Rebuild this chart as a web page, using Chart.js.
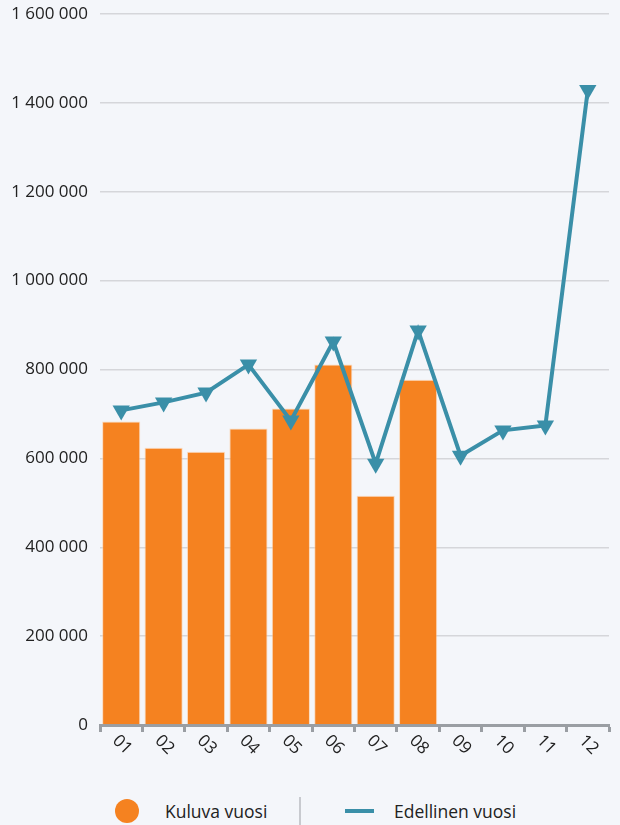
<!DOCTYPE html>
<html>
<head>
<meta charset="utf-8">
<script src="https://cdn.jsdelivr.net/npm/chart.js@4"></script>
<style>
  html, body { margin: 0; padding: 0; background: #f4f6fa; }
  body { width: 620px; height: 825px; overflow: hidden; font-family: "Open Sans", "Noto Sans", sans-serif; }
  #wrap { position: relative; width: 620px; height: 790px; }
  #legend { position: absolute; left: 0; top: 797px; width: 620px; height: 28px; }
  .item { position: absolute; top: 0; height: 28px; display: flex; align-items: center; font-size: 17.5px; color: #222; }
  .sep { position: absolute; left: 299px; top: 0; width: 2px; height: 28px; background: #c8cacf; }
</style>
</head>
<body>
<div id="wrap"><canvas id="chart" width="620" height="790"></canvas></div>
<div id="legend"></div>
<script>
const months = ['01', '02', '03', '04', '05', '06', '07', '08', '09', '10', '11', '12'];
const currentYear = [683000, 624000, 615000, 667000, 712000, 811000, 516000, 777000, null, null, null, null];
const previousYear = [708000, 726000, 748000, 811000, 685000, 863000, 588000, 888000, 606000, 663000, 674000, 1429000];
const yTicks = [0, 200000, 400000, 600000, 800000, 1000000, 1200000, 1400000, 1600000];

const orange = '#f58220';
const teal = '#3a8fa8';
const fontFamily = '"Open Sans", "Noto Sans", sans-serif';

function fmt(v) {
  // 1600000 -> "1 600 000"
  return String(v).replace(/\B(?=(\d{3})+(?!\d))/g, ' ');
}

// x labels are turned clockwise, which the built-in ticks don't do
const xLabelPlugin = {
  id: 'xLabels',
  afterDraw(chart) {
    const ctx = chart.ctx;
    const xs = chart.scales.x;
    const top = xs.top + 13;
    ctx.save();
    ctx.fillStyle = '#222';
    ctx.font = '17px ' + fontFamily;
    ctx.textBaseline = 'middle';
    ctx.textAlign = 'left';
    months.forEach((m, i) => {
      const x = xs.getPixelForValue(i);
      ctx.save();
      ctx.translate(x - 6, top);
      ctx.rotate(Math.PI / 4);
      ctx.fillText(m, 0, 0);
      ctx.restore();
    });
    ctx.restore();
  }
};

const chart = new Chart(document.getElementById('chart'), {
  data: {
    labels: months,
    datasets: [
      {
        type: 'line',
        label: 'Edellinen vuosi',
        data: previousYear,
        borderColor: teal,
        backgroundColor: teal,
        borderWidth: 4,
        pointStyle: 'triangle',
        rotation: 180,
        pointRadius: 10,
        pointHoverRadius: 10,
        pointBorderWidth: 0,
        tension: 0,
        order: 0,
      },
      {
        type: 'bar',
        label: 'Kuluva vuosi',
        data: currentYear,
        backgroundColor: orange,
        borderColor: 'rgba(255,200,150,0.6)',
        borderWidth: { top: 1, left: 1, right: 1, bottom: 0 },
        barPercentage: 0.9,
        categoryPercentage: 1,
        order: 1,
      },
    ]
  },
  options: {
    responsive: false,
    animation: false,
    layout: { padding: { left: 0, right: 11, top: 14, bottom: 58 } },
    plugins: {
      legend: { display: false },
      tooltip: { enabled: false },
    },
    scales: {
      x: {
        offset: true,
        grid: {
          offset: true,
          drawOnChartArea: false,
          drawTicks: true,
          tickLength: 7,
          tickWidth: 3,
          tickColor: '#9a9ea3',
        },
        border: { display: true, color: '#9a9ea3', width: 3 },
        ticks: { display: false },
      },
      y: {
        min: 0,
        max: 1600000,
        afterBuildTicks(scale) {
          scale.ticks = yTicks.map((v) => ({ value: v }));
        },
        afterFit(scale) {
          scale.width = 100;
          scale.paddingTop = 0;
          scale.paddingBottom = 0;
        },
        grid: {
          color: '#d5d6da',
          lineWidth: 1.5,
          drawTicks: false,
        },
        border: { display: false },
        ticks: {
          padding: 12,
          color: '#222',
          font: { size: 17, family: fontFamily },
          callback: (v) => fmt(v),
        },
      },
    },
  },
  plugins: [xLabelPlugin],
});

// legend below the chart, with a divider between the two entries
const legend = document.getElementById('legend');
legend.innerHTML =
  '<div class="item" style="left:115px"><span style="display:inline-block;width:24px;height:24px;border-radius:50%;background:' + orange + ';margin-right:26px"></span>' + chart.data.datasets[1].label + '</div>' +
  '<div class="sep"></div>' +
  '<div class="item" style="left:345px"><span style="display:inline-block;width:29px;height:4px;background:' + teal + ';margin-right:20px"></span>' + chart.data.datasets[0].label + '</div>';
</script>
</body>
</html>
